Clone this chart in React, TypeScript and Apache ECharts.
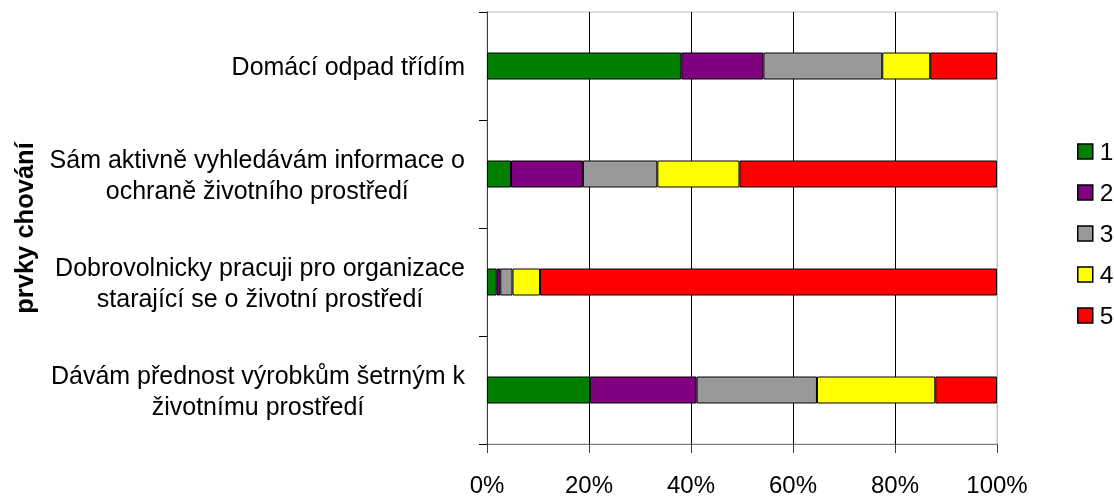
import React, { useEffect, useRef } from "react";
import * as echarts from "echarts";

const categories = [
  "Domácí odpad třídím",
  "Sám aktivně vyhledávám informace o\nochraně životního prostředí",
  "Dobrovolnicky pracuji pro organizace\nstarající se o životní prostředí",
  "Dávám přednost výrobkům šetrným k\nživotnímu prostředí",
];
const seriesNames = ["1", "2", "3", "4", "5"];
const values1 = [38.1, 4.7, 1.9, 20.2];
const values2 = [16.1, 14.1, 0.7, 20.9];
const values3 = [23.3, 14.6, 2.4, 23.6];
const values4 = [9.4, 16.1, 5.4, 23.2];
const values5 = [13.1, 50.5, 89.6, 12.1];
const colors = ["#008000", "#800080", "#999999", "#ffff00", "#ff0000"];
const yAxisTitle = "prvky chování";

const FONT = "'Liberation Sans', Arial, sans-serif";

export default function App() {
  const ref = useRef<HTMLDivElement>(null);
  useEffect(() => {
    if (!ref.current) return;
    const chart = echarts.init(ref.current, undefined, { renderer: "svg" });
    const allValues = [values1, values2, values3, values4, values5];
    chart.setOption({
      animation: false,
      textStyle: { fontFamily: FONT },
      grid: {
        left: 487,
        top: 12,
        width: 510,
        height: 432,
        show: true,
        borderColor: "#c0c0c0",
        borderWidth: 1,
        backgroundColor: "transparent",
      },
      legend: {
        orient: "vertical",
        left: 1072,
        top: 134,
        itemWidth: 15,
        itemHeight: 15,
        itemGap: 16,
        icon: "rect",
        data: seriesNames,
        itemStyle: { borderColor: "#000", borderWidth: 1.5 },
        textStyle: {
          fontFamily: FONT,
          fontSize: 24.5,
          lineHeight: 25,
          color: "#000",
          padding: [0, 0, 0, 2],
        },
      },
      xAxis: {
        type: "value",
        min: 0,
        max: 100,
        interval: 20,
        axisLine: { show: true, lineStyle: { color: "#808080", width: 1 } },
        axisTick: { show: true, length: 9, lineStyle: { color: "#404040" } },
        axisLabel: {
          formatter: "{value}%",
          fontFamily: FONT,
          fontSize: 24,
          color: "#000",
          margin: 28,
        },
        splitLine: {
          show: true,
          lineStyle: {
            color: ["#808080", "#000", "#000", "#000", "#000", "#c0c0c0"],
            width: 1,
          },
        },
      },
      yAxis: {
        type: "category",
        inverse: true,
        data: categories,
        axisLine: { show: true, lineStyle: { color: "#404040", width: 1 } },
        axisTick: { show: true, length: 8, lineStyle: { color: "#000" } },
        axisLabel: {
          margin: 22,
          formatter: (v: string) =>
            v
              .split("\n")
              .map((l) => "{c|" + l + "}")
              .join("\n"),
          rich: {
            c: {
              align: "center",
              fontFamily: FONT,
              fontSize: 25,
              lineHeight: 31,
              color: "#000",
            },
          },
        },
        splitLine: { show: false },
      },
      graphic: [
        {
          type: "text",
          x: 24,
          y: 228,
          rotation: Math.PI / 2,
          style: {
            text: yAxisTitle,
            fontFamily: FONT,
            fontSize: 25.5,
            fontWeight: "bold",
            fill: "#000",
            textAlign: "center",
            textVerticalAlign: "middle",
          },
        },
      ],
      series: seriesNames.map((name, i) => ({
        name,
        type: "bar",
        stack: "total",
        barWidth: "25%",
        data: allValues[i],
        itemStyle: { color: colors[i], borderColor: "#000", borderWidth: 1 },
      })),
    });
    return () => chart.dispose();
  }, []);
  return (
    <div
      ref={ref}
      style={{ position: "fixed", left: 0, top: 0, width: 1114, height: 496 }}
    />
  );
}
